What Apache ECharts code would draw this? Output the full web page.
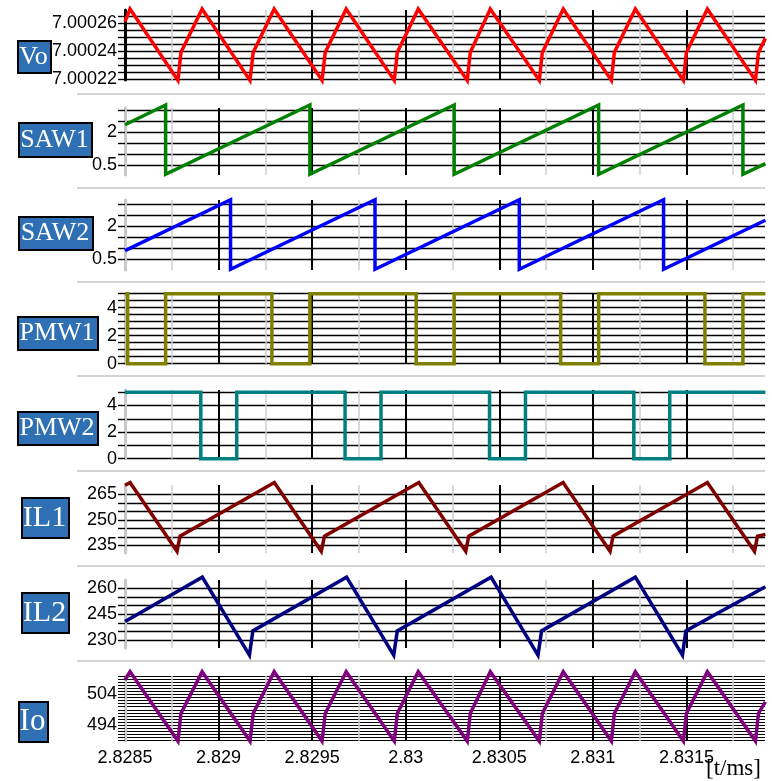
<!DOCTYPE html>
<html>
<head>
<meta charset="utf-8">
<script src="https://cdn.jsdelivr.net/npm/echarts@6/dist/echarts.min.js"></script>
<style>
  html, body { margin: 0; padding: 0; background: #fff; }
  #chart { width: 772px; height: 781px; }
</style>
</head>
<body>
<div id="chart"></div>
<script>
// Time window shown on the shared x axis [ms]
const timeMin = 2.8285;
const timeMax = 2.83192;
const timeTicks = ['2.8285', '2.829', '2.8295', '2.83', '2.8305', '2.831', '2.8315'];

// Output voltage Vo [t, V]
const vo = [
  [2.8285, 7.000261], [2.828527, 7.00027], [2.828783, 7.000219], [2.828799, 7.000239],
  [2.828912, 7.00027], [2.829168, 7.000219], [2.829185, 7.000239],
  [2.829297, 7.00027], [2.829553, 7.000219], [2.829570, 7.000239],
  [2.829682, 7.00027], [2.829939, 7.000219], [2.829955, 7.000239],
  [2.830067, 7.00027], [2.830329, 7.000219], [2.830345, 7.000239],
  [2.830452, 7.00027], [2.830714, 7.000219], [2.830730, 7.000239],
  [2.830842, 7.00027], [2.831099, 7.000219], [2.831115, 7.000239],
  [2.831227, 7.00027], [2.831484, 7.000219], [2.831500, 7.000239],
  [2.831612, 7.00027], [2.831869, 7.000219], [2.831885, 7.000239],
  [2.831922, 7.000249]
];
const voTicks = ['7.00022', '7.00024', '7.00026'];

// Carrier sawtooth, phase 1
const saw1 = [
  [2.8285, 2.33],
  [2.828717, 3.23], [2.828717, 0.08],
  [2.829488, 3.23], [2.829488, 0.08],
  [2.830259, 3.23], [2.830259, 0.08],
  [2.831031, 3.23], [2.831031, 0.08],
  [2.831802, 3.23], [2.831802, 0.08],
  [2.831922, 0.56]
];
// Carrier sawtooth, phase 2
const saw2 = [
  [2.8285, 0.9],
  [2.829064, 3.19], [2.829064, 0.06],
  [2.829836, 3.19], [2.829836, 0.06],
  [2.830607, 3.19], [2.830607, 0.06],
  [2.831378, 3.19], [2.831378, 0.06],
  [2.831922, 2.27]
];
const sawTicks = ['0.5', '2'];

// Gate signals
const pmw1 = [
  [2.8285, 5], [2.828514, 5], [2.828514, 0], [2.828717, 0], [2.828717, 5],
  [2.829285, 5], [2.829285, 0], [2.829488, 0], [2.829488, 5],
  [2.830056, 5], [2.830056, 0], [2.830259, 0], [2.830259, 5],
  [2.830828, 5], [2.830828, 0], [2.831031, 0], [2.831031, 5],
  [2.831599, 5], [2.831599, 0], [2.831802, 0], [2.831802, 5],
  [2.831922, 5]
];
const pmw2 = [
  [2.8285, 5], [2.828905, 5], [2.828905, 0], [2.829097, 0], [2.829097, 5],
  [2.829676, 5], [2.829676, 0], [2.829868, 0], [2.829868, 5],
  [2.830448, 5], [2.830448, 0], [2.830640, 0], [2.830640, 5],
  [2.831219, 5], [2.831219, 0], [2.831411, 0], [2.831411, 5],
  [2.831922, 5]
];
const pmwTicks = ['0', '2', '4'];

// Inductor currents
const il1 = [
  [2.8285, 270.4], [2.828527, 272],
  [2.828778, 231.6], [2.828794, 240.5], [2.829298, 272],
  [2.829549, 231.6], [2.829566, 240.5], [2.830070, 272],
  [2.830321, 231.6], [2.830337, 240.5], [2.830841, 272],
  [2.831092, 231.6], [2.831108, 240.5], [2.831612, 272],
  [2.831864, 231.6], [2.831880, 240.5], [2.831922, 241.5]
];
const il1Ticks = ['235', '250', '265'];

const il2 = [
  [2.8285, 240.8], [2.828913, 266.6],
  [2.829165, 221.2], [2.829183, 235.3], [2.829684, 266.6],
  [2.829936, 221.2], [2.829955, 235.3], [2.830456, 266.6],
  [2.830707, 221.2], [2.830726, 235.3], [2.831227, 266.6],
  [2.831479, 221.2], [2.831497, 235.3], [2.831922, 261]
];
const il2Ticks = ['230', '245', '260'];

// Output current Io
const io = [
  [2.8285, 508.7], [2.828527, 511.4], [2.828783, 488.8], [2.828799, 497.8],
  [2.828912, 511.4], [2.829168, 488.8], [2.829185, 497.8],
  [2.829297, 511.4], [2.829553, 488.8], [2.829570, 497.8],
  [2.829682, 511.4], [2.829939, 488.8], [2.829955, 497.8],
  [2.830067, 511.4], [2.830329, 488.8], [2.830345, 497.8],
  [2.830452, 511.4], [2.830714, 488.8], [2.830730, 497.8],
  [2.830842, 511.4], [2.831099, 488.8], [2.831115, 497.8],
  [2.831227, 511.4], [2.831484, 488.8], [2.831500, 497.8],
  [2.831612, 511.4], [2.831869, 488.8], [2.831885, 497.8],
  [2.831922, 501.6]
];
const ioTicks = ['494', '504'];

// Panel layout and styling
const panels = [
  { name: 'Vo',   data: vo,   color: '#ff0000', yMin: 7.00022, yMax: 7.000265, step: 0.000005, ticks: voTicks,
    top: 16, height: 63, bgTop: 10, bgHeight: 70, axisColor: '#000000', gridWidth: 1.4, box: [17, 40, 33, 32], font: 26 },
  { name: 'SAW1', data: saw1, color: '#008000', yMin: 0.5, yMax: 3, step: 0.5, ticks: sawTicks,
    top: 110, height: 55, bgTop: 108, bgHeight: 67, axisColor: '#c8c8c8', gridWidth: 1.4, box: [18, 122, 73, 34], font: 26 },
  { name: 'SAW2', data: saw2, color: '#0000ff', yMin: 0.5, yMax: 3, step: 0.5, ticks: sawTicks,
    top: 204, height: 55.5, bgTop: 200, bgHeight: 70, axisColor: '#c8c8c8', gridWidth: 1.4, box: [18, 216, 74, 33], font: 26 },
  { name: 'PMW1', data: pmw1, color: '#808000', yMin: 0, yMax: 5, step: 0.5, ticks: pmwTicks,
    top: 293.7, height: 70, bgTop: 293.7, bgHeight: 70, axisColor: '#c8c8c8', gridWidth: 1.4, box: [17, 316, 80, 33], font: 26 },
  { name: 'PMW2', data: pmw2, color: '#008080', yMin: 0, yMax: 5, step: 1, ticks: pmwTicks,
    top: 392.2, height: 66.5, bgTop: 390, bgHeight: 68.7, axisColor: '#c8c8c8', gridWidth: 1.4, box: [17, 411, 80, 33], font: 26 },
  { name: 'IL1',  data: il1,  color: '#800000', yMin: 235, yMax: 265, step: 5, ticks: il1Ticks,
    top: 494.5, height: 51, bgTop: 485, bgHeight: 68, axisColor: '#c8c8c8', gridWidth: 1.4, box: [21, 497, 47, 40], font: 30 },
  { name: 'IL2',  data: il2,  color: '#000080', yMin: 230, yMax: 260, step: 5, ticks: il2Ticks,
    top: 588.5, height: 51.5, bgTop: 580, bgHeight: 68, axisColor: '#c8c8c8', gridWidth: 1.4, box: [21, 592, 47, 40], font: 30 },
  { name: 'Io',   data: io,   color: '#800080', yMin: 489, yMax: 510, step: 1, ticks: ioTicks,
    top: 676, height: 64.5, bgTop: 676, bgHeight: 65, axisColor: '#c8c8c8', gridWidth: 1, box: [18, 701, 29, 40], font: 31 }
];
const separators = [94, 188, 282, 376, 471, 566, 661];

const PLOT_LEFT = 125;
const PLOT_RIGHT = 7;
const sansFont = '"Liberation Sans", Arial, sans-serif';
const serifFont = '"Liberation Serif", "Times New Roman", serif';

function pickLabel(list, value, tol) {
  for (const s of list) {
    if (Math.abs(parseFloat(s) - value) < tol) return s;
  }
  return '';
}

const grid = [], xAxis = [], yAxis = [], series = [], graphic = [];

panels.forEach((p, i) => {
  const last = i === panels.length - 1;
  // background grid: vertical time grid lines and the left axis bar
  grid.push({ left: PLOT_LEFT, right: PLOT_RIGHT, top: p.bgTop, height: p.bgHeight, outerBoundsMode: 'none' });
  xAxis.push({
    type: 'value', gridIndex: 2 * i, min: timeMin, max: timeMax, interval: 0.0005,
    axisLine: { show: false }, axisTick: { show: false },
    axisLabel: {
      show: last, fontSize: 18, fontFamily: sansFont, color: '#000', margin: 8,
      showMaxLabel: false,
      formatter: v => pickLabel(timeTicks, v, 1e-7)
    },
    splitLine: { show: true, showMinLine: false, showMaxLine: false, lineStyle: { color: '#000', width: 2 } },
    minorTick: { show: false, splitNumber: 2 },
    minorSplitLine: { show: true, lineStyle: { color: '#cfcfcf', width: 1.5 } }
  });
  yAxis.push({
    type: 'value', gridIndex: 2 * i, min: 0, max: 1,
    axisLine: { show: true, lineStyle: { color: p.axisColor, width: 3 } },
    axisTick: { show: false }, axisLabel: { show: false }, splitLine: { show: false }
  });

  // foreground grid: horizontal value lines, labels and the trace
  grid.push({ left: PLOT_LEFT, right: PLOT_RIGHT, top: p.top, height: p.height, outerBoundsMode: 'none' });
  xAxis.push({ type: 'value', gridIndex: 2 * i + 1, min: timeMin, max: timeMax, show: false });
  yAxis.push({
    type: 'value', gridIndex: 2 * i + 1, min: p.yMin, max: p.yMax, interval: p.step,
    axisLine: { show: false },
    axisTick: { show: true, length: 7, lineStyle: { color: '#000', width: p.gridWidth } },
    axisLabel: {
      fontSize: 18, fontFamily: sansFont, color: '#000', margin: 8,
      formatter: v => pickLabel(p.ticks, v, p.step / 10)
    },
    splitLine: { show: true, lineStyle: { color: '#000', width: p.gridWidth } }
  });
  series.push({
    name: p.name, type: 'line', xAxisIndex: 2 * i + 1, yAxisIndex: 2 * i + 1,
    data: p.data, showSymbol: false, symbol: 'none', clip: false, z: 5,
    lineStyle: { color: p.color, width: 3.5, join: 'miter' }
  });

  // name tag on the left
  const [bx, by, bw, bh] = p.box;
  graphic.push({
    type: 'rect', left: bx, top: by, z: 10,
    shape: { width: bw, height: bh },
    style: { fill: '#2f6fb3', stroke: '#000', lineWidth: 2 }
  });
  graphic.push({
    type: 'text', x: bx + bw / 2, y: by + bh / 2 + 1, z: 11,
    style: { text: p.name, fill: '#fff', font: p.font + 'px ' + serifFont, align: 'center', verticalAlign: 'middle' }
  });
});

separators.forEach(y => {
  graphic.push({
    type: 'line', z: 1,
    shape: { x1: 77, y1: y, x2: 765, y2: y },
    style: { stroke: '#d4d4d4', lineWidth: 2 }
  });
});

graphic.push({
  type: 'text', left: 706, top: 757, z: 11,
  style: { text: '[t/ms]', fill: '#000', font: '23px ' + serifFont }
});

const chart = echarts.init(document.getElementById('chart'), null, { renderer: 'canvas' });
chart.setOption({
  animation: false,
  backgroundColor: '#fff',
  grid, xAxis, yAxis, series, graphic
});
</script>
</body>
</html>
